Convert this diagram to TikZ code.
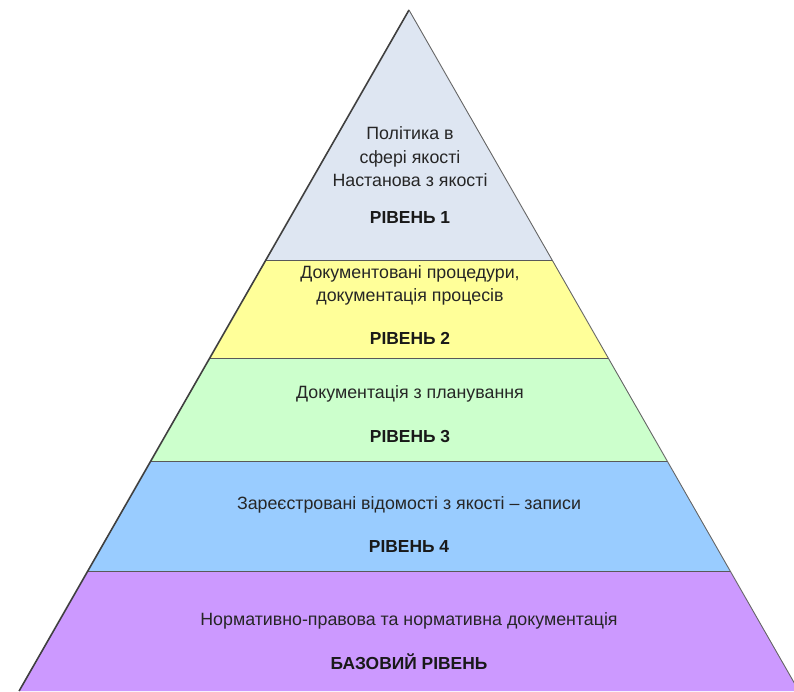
\documentclass[tikz,border=0pt]{standalone}
\usepackage{fontspec}
\setmainfont{Liberation Sans}
\begin{document}
\begin{tikzpicture}[x=1pt,y=-1pt,
  band/.style={draw=gray!70!black,line width=0.6pt},
  lbl/.style={align=center,text=black!85,font=\fontsize{17.8}{23.5}\selectfont,inner sep=0pt},
  lvl/.style={text=black!90,font=\fontsize{17.4}{20}\selectfont\bfseries,inner sep=0pt}]
\useasboundingbox (0,0) rectangle (794,691);
\definecolor{cA}{HTML}{DEE6F2}
\definecolor{cB}{HTML}{FFFF99}
\definecolor{cC}{HTML}{CCFFCC}
\definecolor{cD}{HTML}{99CCFF}
\definecolor{cE}{HTML}{CC99FF}
\begin{scope}
\clip (0,0) rectangle (794,691);
\fill[cA] (409,10) -- (552.1,260) -- (265.9,260) -- cycle;
\fill[cB] (265.9,260) -- (552.1,260) -- (608.5,358.5) -- (209.5,358.5) -- cycle;
\fill[cC] (209.5,358.5) -- (608.5,358.5) -- (667.5,461.5) -- (150.5,461.5) -- cycle;
\fill[cD] (150.5,461.5) -- (667.5,461.5) -- (730.5,571.5) -- (87.5,571.5) -- cycle;
\fill[cE] (87.5,571.5) -- (730.5,571.5) -- (798.9,691) -- (19.1,691) -- cycle;
\draw[band] (265.9,260) -- (552.1,260);
\draw[band] (209.5,358.5) -- (608.5,358.5);
\draw[band] (150.5,461.5) -- (667.5,461.5);
\draw[band] (87.5,571.5) -- (730.5,571.5);
\draw[draw=black!75,line width=1.6pt,line join=round] (19.1,691) -- (409,10);
\draw[draw=black!60,line width=0.9pt,line join=round] (409,10) -- (798.9,691);
\end{scope}
\node[lbl] (t1) at (410,157) {Політика в\\сфері якості\\Настанова з якості};
\node[lvl] (r1) at (410,218) {РІВЕНЬ 1};
\node[lbl] (t2) at (410,285.5) {Документовані процедури,\\документація процесів};
\node[lvl] (r2) at (410,338) {РІВЕНЬ 2};
\node[lbl] (t3) at (410,394) {Документація з планування};
\node[lvl] (r3) at (410,437) {РІВЕНЬ 3};
\node[lbl] (t4) at (409,505) {Зареєстровані відомості з якості – записи};
\node[lvl] (r4) at (409,547) {РІВЕНЬ 4};
\node[lbl] (t5) at (409,621) {Нормативно-правова та нормативна документація};
\node[lvl] (r5) at (409,662) {БАЗОВИЙ РІВЕНЬ};
\end{tikzpicture}
\end{document}
